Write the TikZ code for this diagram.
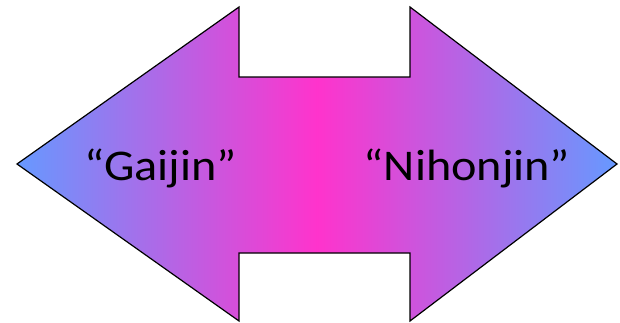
\documentclass[tikz,border=0pt]{standalone}
\usepackage{fontspec}
\setmainfont{Carlito}
\definecolor{edgeblue}{HTML}{6699FF}
\definecolor{midpink}{HTML}{FF33CC}
\pgfdeclarehorizontalshading{bluepinkblue}{100bp}{
  color(0bp)=(edgeblue); color(25bp)=(edgeblue); color(50bp)=(midpink); color(75bp)=(edgeblue); color(100bp)=(edgeblue)}
\begin{document}
\begin{tikzpicture}[x=1bp,y=1bp,
  label/.style={font=\fontsize{44}{50}\selectfont, text=black, inner sep=0pt, anchor=base, xscale=1.1}]
\useasboundingbox (0,0) rectangle (620,322);
\path[shading=bluepinkblue, shading angle=0, draw=black, line width=1.2bp, line join=miter]
  (17,158) -- (239,315) -- (239,245) -- (410,245) -- (410,315) -- (617,158)
  -- (410,1) -- (410,69) -- (239,69) -- (239,1) -- cycle;
\node[label] (gaijin) at (161,142) {“Gaijin”};
\node[label] (nihonjin) at (467,142) {“Nihonjin”};
\end{tikzpicture}
\end{document}
